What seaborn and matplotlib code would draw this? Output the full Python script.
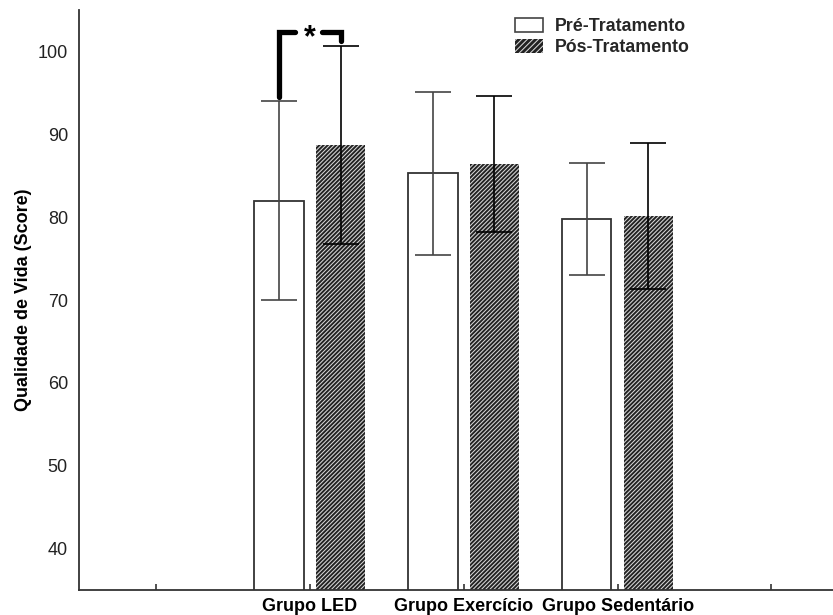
import matplotlib
matplotlib.use("Agg")
import matplotlib.pyplot as plt
from matplotlib.patches import Patch
import seaborn as sns
import pandas as pd
import numpy as np

# ---- data ----
groups = ["Grupo LED", "Grupo Exercício", "Grupo Sedentário"]
phases = ["Pré-Tratamento", "Pós-Tratamento"]
pre_means = [82.0, 85.3, 79.8]
post_means = [88.7, 86.4, 80.1]
pre_sd = [12.0, 9.85, 6.75]
post_sd = [11.9, 8.2, 8.8]
y_ticks = [40, 50, 60, 70, 80, 90, 100]
ylabel = "Qualidade de Vida (Score)"
sig_left_bottom = 94.5   # bracket start above LED pre bar
sig_top = 102.4          # bracket top
sig_right_bottom = 101.3 # bracket end above LED post bar
sig_text = "*"

sns.set_theme(style="white")
plt.rcParams["font.family"] = ["Liberation Sans", "DejaVu Sans"]
plt.rcParams["hatch.linewidth"] = 0.75

df = pd.DataFrame({
    "grupo": groups * 2,
    "momento": [phases[0]] * 3 + [phases[1]] * 3,
    "valor": pre_means + post_means,
})

W, H = 833, 615
fig = plt.figure(figsize=(W / 100, H / 100), dpi=100)
ax = fig.add_axes([79 / W, 25 / H, (W - 79) / W, 580 / H])

sns.barplot(data=df, x="grupo", y="valor", hue="momento", order=groups,
            hue_order=phases, errorbar=None, width=0.8, gap=0.2,
            legend=False, ax=ax, zorder=2)

bars = sorted([p for p in ax.patches], key=lambda p: p.get_x())
sds = []
for i in range(3):
    sds += [pre_sd[i], post_sd[i]]
centers = []
for k, p in enumerate(bars):
    cx = p.get_x() + p.get_width() / 2
    centers.append(cx)
    if k % 2 == 0:
        p.set_facecolor("white")
        p.set_edgecolor("#333333")
        p.set_linewidth(1.3)
        ecol = "#444444"
    else:
        p.set_facecolor("#222222")
        p.set_edgecolor("#d8d8d8")
        p.set_hatch("////////")
        p.set_linewidth(0)
        ecol = "black"
    ax.errorbar(cx, p.get_height(), yerr=sds[k], fmt="none", ecolor=ecol,
                elinewidth=1.2, capsize=13, capthick=1.2, zorder=3)

# significance bracket
xl, xr = centers[0], centers[1]
xm = (xl + xr) / 2
ax.plot([xl, xl, xm - 0.095], [sig_left_bottom, sig_top, sig_top], color="black",
        lw=3.8, solid_capstyle="round", solid_joinstyle="miter", zorder=4, clip_on=False)
ax.plot([xm + 0.08, xr, xr], [sig_top, sig_top, sig_right_bottom], color="black",
        lw=3.8, solid_capstyle="round", solid_joinstyle="miter", zorder=4, clip_on=False)
ax.text(xm, sig_top - 0.75, sig_text, ha="center", va="center", fontsize=22,
        fontweight="bold", color="black")

ax.set_ylim(35, 105)
ax.set_xlim(-1.5, 3.4)
ax.set_yticks(y_ticks)
ax.set_yticklabels([str(t) for t in y_ticks], fontsize=13, color="#222222")
ax.set_xticks([-1, 0, 1, 2, 3])
ax.set_xticklabels([""] + groups + [""], fontsize=13, fontweight="bold", color="black")
ax.tick_params(axis="y", length=0, pad=8)
ax.tick_params(axis="x", bottom=True, direction="in", length=4, width=1.2,
               color="#333333", pad=6)
ax.set_xlabel("")
ax.set_ylabel(ylabel, fontsize=13, fontweight="bold", color="black", labelpad=4)

for s in ["top", "right"]:
    ax.spines[s].set_visible(False)
for s in ["left", "bottom"]:
    ax.spines[s].set_color("#333333")
    ax.spines[s].set_linewidth(1.3)

handles = [
    Patch(facecolor="white", edgecolor="#444444", linewidth=1.2, label=phases[0]),
    Patch(facecolor="#222222", edgecolor="#d8d8d8", hatch="//////", linewidth=0, label=phases[1]),
]
leg = ax.legend(handles=handles, loc="upper left", bbox_to_anchor=(515 / W, 1 - 18 / H),
                bbox_transform=fig.transFigure, frameon=False, fontsize=12.8,
                handlelength=1.6, handleheight=0.85, handletextpad=0.65,
                labelspacing=0.2, borderpad=0, borderaxespad=0)
for t in leg.get_texts():
    t.set_fontweight("bold")

fig.savefig("out.png", dpi=100)
